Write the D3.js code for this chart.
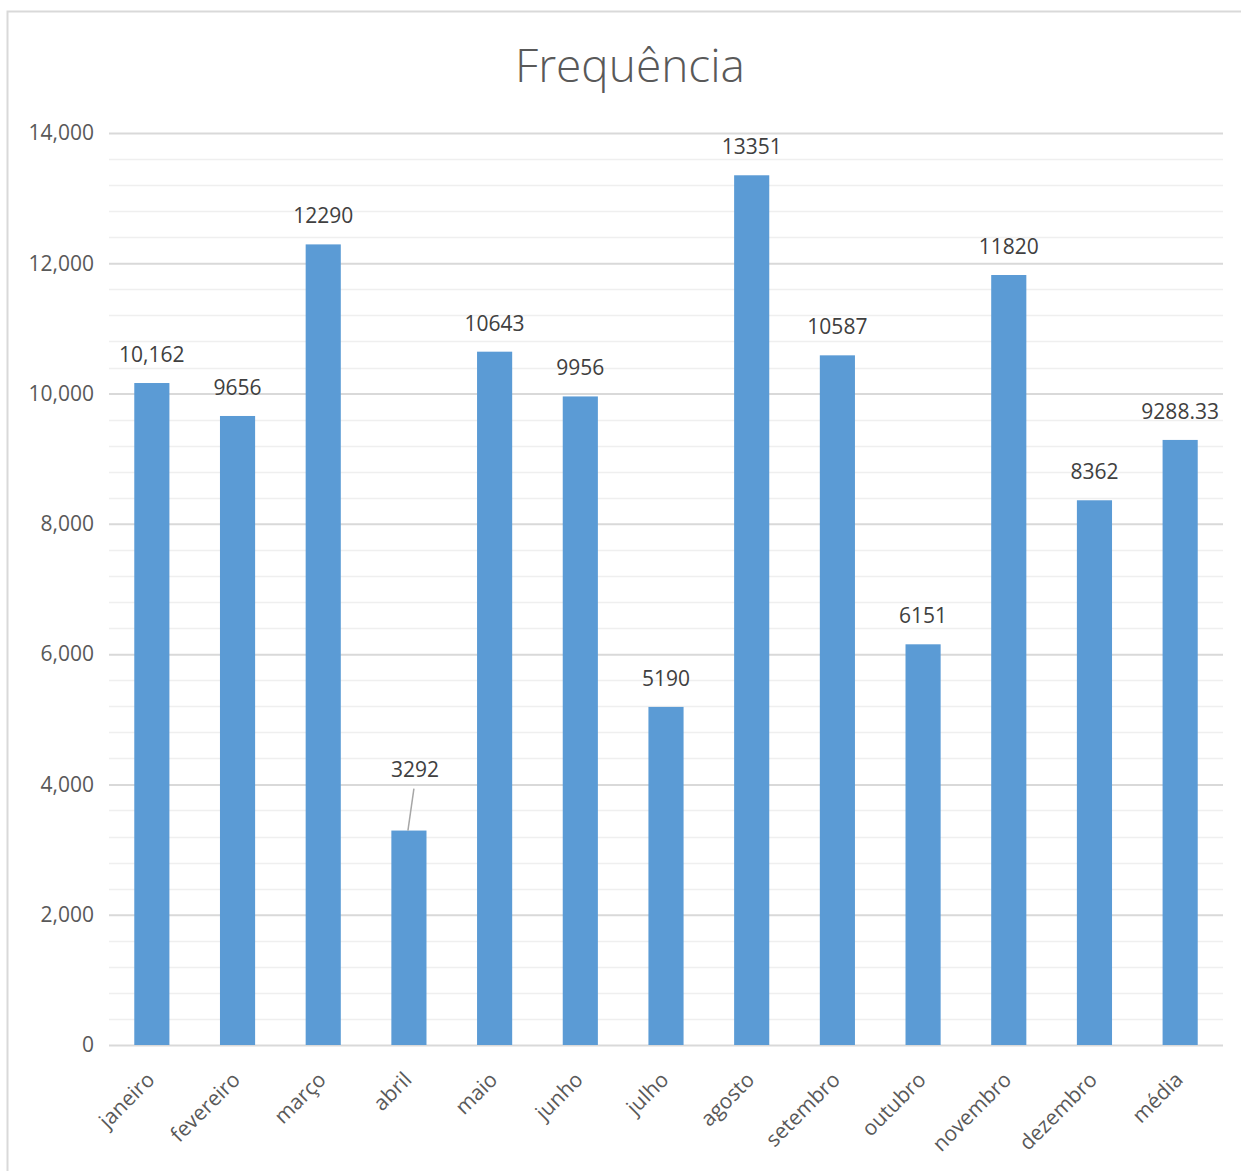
<!DOCTYPE html>
<html>
<head>
<meta charset="utf-8">
<script src="https://cdn.jsdelivr.net/npm/d3@7"></script>
<style>
  html, body { margin: 0; padding: 0; background: #fff; }
  svg { display: block; font-family: "Open Sans", "Liberation Sans", sans-serif; }
</style>
</head>
<body>
<svg id="chart" width="1241" height="1171"></svg>
<script>
// Monthly frequency and yearly average
const categories = ["janeiro", "fevereiro", "março", "abril", "maio", "junho", "julho",
                    "agosto", "setembro", "outubro", "novembro", "dezembro", "média"];
const values = [10162, 9656, 12290, 3292, 10643, 9956, 5190, 13351, 10587, 6151, 11820, 8362, 9288.33];
const valueLabels = ["10,162", "9656", "12290", "3292", "10643", "9956", "5190",
                     "13351", "10587", "6151", "11820", "8362", "9288.33"];
const majorTicks = [0, 2000, 4000, 6000, 8000, 10000, 12000, 14000];
const minorStep = 400;
const title = "Frequência";

const svg = d3.select("#chart");
const W = 1241, H = 1171;
const margin = { top: 133, right: 18, bottom: 126, left: 109 };
const plotW = W - margin.left - margin.right;
const plotH = H - margin.top - margin.bottom;

// chart frame
svg.append("rect")
  .attr("x", 7.5).attr("y", 11.5)
  .attr("width", W + 20).attr("height", H + 20)
  .attr("fill", "#fff").attr("stroke", "#d9d9d9").attr("stroke-width", 2);

svg.append("text")
  .attr("x", 630).attr("y", 82)
  .attr("text-anchor", "middle")
  .attr("font-size", 46)
  .attr("font-weight", 300)
  .attr("fill", "#595959")
  .text(title);

const g = svg.append("g").attr("transform", `translate(${margin.left},${margin.top})`);

const x = d3.scaleBand().domain(categories).range([0, plotW]).paddingInner(0.59).paddingOuter(0.295);
const y = d3.scaleLinear().domain([0, 14000]).range([plotH, 0]);

// minor gridlines
const minorTicks = d3.range(0, 14000 + 1, minorStep).filter(v => v % 2000 !== 0);
g.append("g").selectAll("line").data(minorTicks).join("line")
  .attr("x1", 0).attr("x2", plotW)
  .attr("y1", d => Math.round(y(d)) + 0.5).attr("y2", d => Math.round(y(d)) + 0.5)
  .attr("stroke", "#efefef").attr("stroke-width", 1.5);

// major gridlines and y labels
const yAxis = d3.axisLeft(y).tickValues(majorTicks).tickSize(-plotW).tickPadding(15)
  .tickFormat(d3.format(","));
const yg = g.append("g").call(yAxis);
yg.select(".domain").remove();
yg.selectAll(".tick line").attr("stroke", "#d9d9d9").attr("stroke-width", 2);
yg.selectAll(".tick text")
  .attr("font-size", 21).attr("fill", "#595959")
  .attr("font-family", "'Open Sans', sans-serif");

// bars
g.append("g").selectAll("rect").data(values).join("rect")
  .attr("x", (d, i) => x(categories[i]))
  .attr("y", d => y(d))
  .attr("width", x.bandwidth())
  .attr("height", d => plotH - y(d))
  .attr("fill", "#5b9bd5");

// value labels; the short April bar has its label lifted with a leader line
const lifted = "abril";
const labels = g.append("g");
values.forEach((v, i) => {
  const cx = x(categories[i]) + x.bandwidth() / 2;
  const top = y(v);
  if (categories[i] === lifted) {
    const ly = top - 56;
    labels.append("line")
      .attr("x1", cx + 5).attr("y1", ly + 14)
      .attr("x2", cx - 1).attr("y2", top)
      .attr("stroke", "#a6a6a6").attr("stroke-width", 1.5);
    labels.append("text")
      .attr("x", cx + 6).attr("y", ly + 2)
      .attr("text-anchor", "middle").attr("font-size", 21).attr("fill", "#404040")
      .text(valueLabels[i]);
  } else {
    labels.append("text")
      .attr("x", cx).attr("y", top - 21)
      .attr("text-anchor", "middle").attr("font-size", 21).attr("fill", "#404040")
      .text(valueLabels[i]);
  }
});

// category axis
const xg = g.append("g").attr("transform", `translate(0,${plotH})`)
  .call(d3.axisBottom(x).tickSize(0).tickPadding(0));
xg.select(".domain").remove();
xg.selectAll(".tick text")
  .attr("font-size", 21).attr("fill", "#595959")
  .attr("font-family", "'Open Sans', sans-serif")
  .attr("text-anchor", "end")
  .attr("dy", null)
  .attr("transform", "translate(4,36) rotate(-45)");
</script>
</body>
</html>
